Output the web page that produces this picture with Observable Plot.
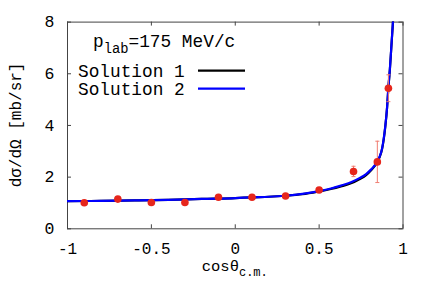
<!DOCTYPE html>
<html>
<head>
<meta charset="utf-8">
<script src="https://cdn.jsdelivr.net/npm/d3@7"></script>
<script src="https://cdn.jsdelivr.net/npm/@observablehq/plot@0.6"></script>
<style>
  html, body { margin: 0; padding: 0; background: white; }
</style>
</head>
<body>
<div id="chart"></div>
<script>
// ---- data ----
const xTicks = [-1, -0.5, 0, 0.5, 1];
const yTicks = [0, 2, 4, 6, 8];

const dataX   = [-0.9, -0.7, -0.5, -0.3, -0.1, 0.1, 0.3, 0.5, 0.705, 0.847, 0.913];
const dataY   = [1.01, 1.15, 1.02, 1.02, 1.22, 1.22, 1.27, 1.50, 2.22, 2.59, 5.44];
const dataErr = [0.08, 0.09, 0.07, 0.07, 0.08, 0.07, 0.07, 0.09, 0.20, 0.80, 0.52];

const curveX  = [-1, -0.8, -0.6, -0.4, -0.2, 0, 0.1, 0.2, 0.3, 0.4, 0.5, 0.57, 0.63, 0.69, 0.74, 0.78, 0.81, 0.845, 0.86, 0.875, 0.894, 0.905, 0.912, 0.922, 0.930, 0.940, 0.948];
const sol2Y   = [1.07, 1.08, 1.10, 1.12, 1.16, 1.19, 1.22, 1.24, 1.28, 1.35, 1.46, 1.56, 1.67, 1.80, 1.96, 2.12, 2.30, 2.58, 2.78, 3.10, 3.95, 4.70, 5.40, 6.20, 7.00, 8.00, 8.80];
const sol1Y   = [1.07, 1.08, 1.10, 1.12, 1.16, 1.19, 1.22, 1.24, 1.28, 1.34, 1.45, 1.54, 1.64, 1.76, 1.92, 2.08, 2.27, 2.56, 2.76, 3.08, 3.93, 4.68, 5.38, 6.18, 6.98, 7.98, 8.78];

const legendLabels = ["Solution 1", "Solution 2"];
const legendColors = ["#000000", "#0000ff"];
const titleMain = "p";
const titleSub = "lab";
const titleRest = "=175 MeV/c";
const xLabelMain = "cosθ";
const xLabelSub = "c.m.";
const yLabel = "dσ/dΩ [mb/sr]";

// ---- tables ----
const points = dataX.map((x, i) => ({x, y: dataY[i], e: dataErr[i]}));
const sol1 = curveX.map((x, i) => ({x, y: sol1Y[i]}));
const sol2 = curveX.map((x, i) => ({x, y: sol2Y[i]}));

const FONT = "'Courier New', 'Nimbus Mono PS', FreeMono, 'Liberation Mono', monospace";
const red = "#e6261c";
const errColor = "#f07d72";
const frameColor = "#444";

const capSymbol = {
  draw(ctx, size) {
    const w = Math.sqrt(size / Math.PI);
    ctx.moveTo(-w, 0);
    ctx.lineTo(w, 0);
  }
};

const W = 436, H = 305;
const mL = 67, mR = 33.5, mT = 21.6, mB = 76.7;
const innerH = H - mT - mB;
const innerW = W - mL - mR;
const tickLen = 4;

function overlay(index, scales, values, dim) {
  const g = d3.create("svg:g")
    .attr("font-family", FONT)
    .attr("fill", "black")
    .attr("text-anchor", "start");
  // title
  const t = g.append("text").attr("x", 93).attr("y", 47).attr("font-size", 17.8);
  t.append("tspan").text(titleMain);
  t.append("tspan").attr("font-size", 13.8).attr("dy", 5.5).text(titleSub);
  t.append("tspan").attr("dy", -5.5).text(titleRest);
  // legend
  legendLabels.forEach((lab, i) => {
    const yb = 77 + i * 18;
    g.append("text").attr("x", 78).attr("y", yb).attr("font-size", 17.8).text(lab);
    g.append("line")
      .attr("x1", 198).attr("x2", 245)
      .attr("y1", yb - 6.3).attr("y2", yb - 6.3)
      .attr("stroke", legendColors[i]).attr("stroke-width", 2.2);
  });
  // x label
  const cx = (dim.marginLeft + dim.width - dim.marginRight) / 2;
  const xl = g.append("text").attr("x", cx).attr("y", 271).attr("text-anchor", "middle").attr("font-size", 15.5);
  xl.append("tspan").text(xLabelMain);
  xl.append("tspan").attr("font-size", 12).attr("dy", 4.5).text(xLabelSub);
  // y label
  const cy = (dim.marginTop + dim.height - dim.marginBottom) / 2;
  g.append("text")
    .attr("transform", `translate(17,${cy}) rotate(-90)`)
    .attr("text-anchor", "middle")
    .attr("dominant-baseline", "middle")
    .attr("font-size", 16)
    .text(yLabel);
  return g.node();
}

const chart = Plot.plot({
  width: W,
  height: H,
  marginLeft: mL,
  marginRight: mR,
  marginTop: mT,
  marginBottom: mB,
  x: {domain: [-1, 1]},
  y: {domain: [0, 8]},
  style: {fontFamily: FONT, fontSize: "16px", background: "white", color: "black"},
  marks: [
    Plot.frame({stroke: frameColor}),
    // inward ticks
    Plot.ruleX(xTicks, {x: d => d, insetTop: innerH - tickLen, stroke: frameColor}),
    Plot.ruleX(xTicks, {x: d => d, insetBottom: innerH - tickLen, stroke: frameColor}),
    Plot.ruleY(yTicks, {y: d => d, insetRight: innerW - tickLen, stroke: frameColor}),
    Plot.ruleY(yTicks, {y: d => d, insetLeft: innerW - tickLen, stroke: frameColor}),
    Plot.axisX({ticks: xTicks, tickSize: 0, tickPadding: 14, label: null, tickFormat: d => String(d), fontSize: 16, fontFamily: FONT}),
    Plot.axisY({ticks: yTicks, tickSize: 0, tickPadding: 13, label: null, tickFormat: d => String(d), fontSize: 16.5, fontFamily: FONT}),
    // curves
    Plot.line(sol1, {x: "x", y: "y", stroke: legendColors[0], strokeWidth: 2.2, curve: "monotone-x", clip: true}),
    Plot.line(sol2, {x: "x", y: "y", stroke: legendColors[1], strokeWidth: 2.2, curve: "monotone-x", clip: true}),
    // error bars
    Plot.ruleX(points, {x: "x", y1: d => d.y - d.e, y2: d => d.y + d.e, stroke: errColor, strokeWidth: 1}),
    Plot.dot(points, {x: "x", y: d => d.y + d.e, symbol: capSymbol, r: 2, stroke: errColor, strokeWidth: 1}),
    Plot.dot(points, {x: "x", y: d => d.y - d.e, symbol: capSymbol, r: 2, stroke: errColor, strokeWidth: 1}),
    // data points
    Plot.dot(points, {x: "x", y: "y", r: 3.8, fill: red, stroke: "none"}),
    overlay
  ]
});

document.getElementById("chart").appendChild(chart);
</script>
</body>
</html>
